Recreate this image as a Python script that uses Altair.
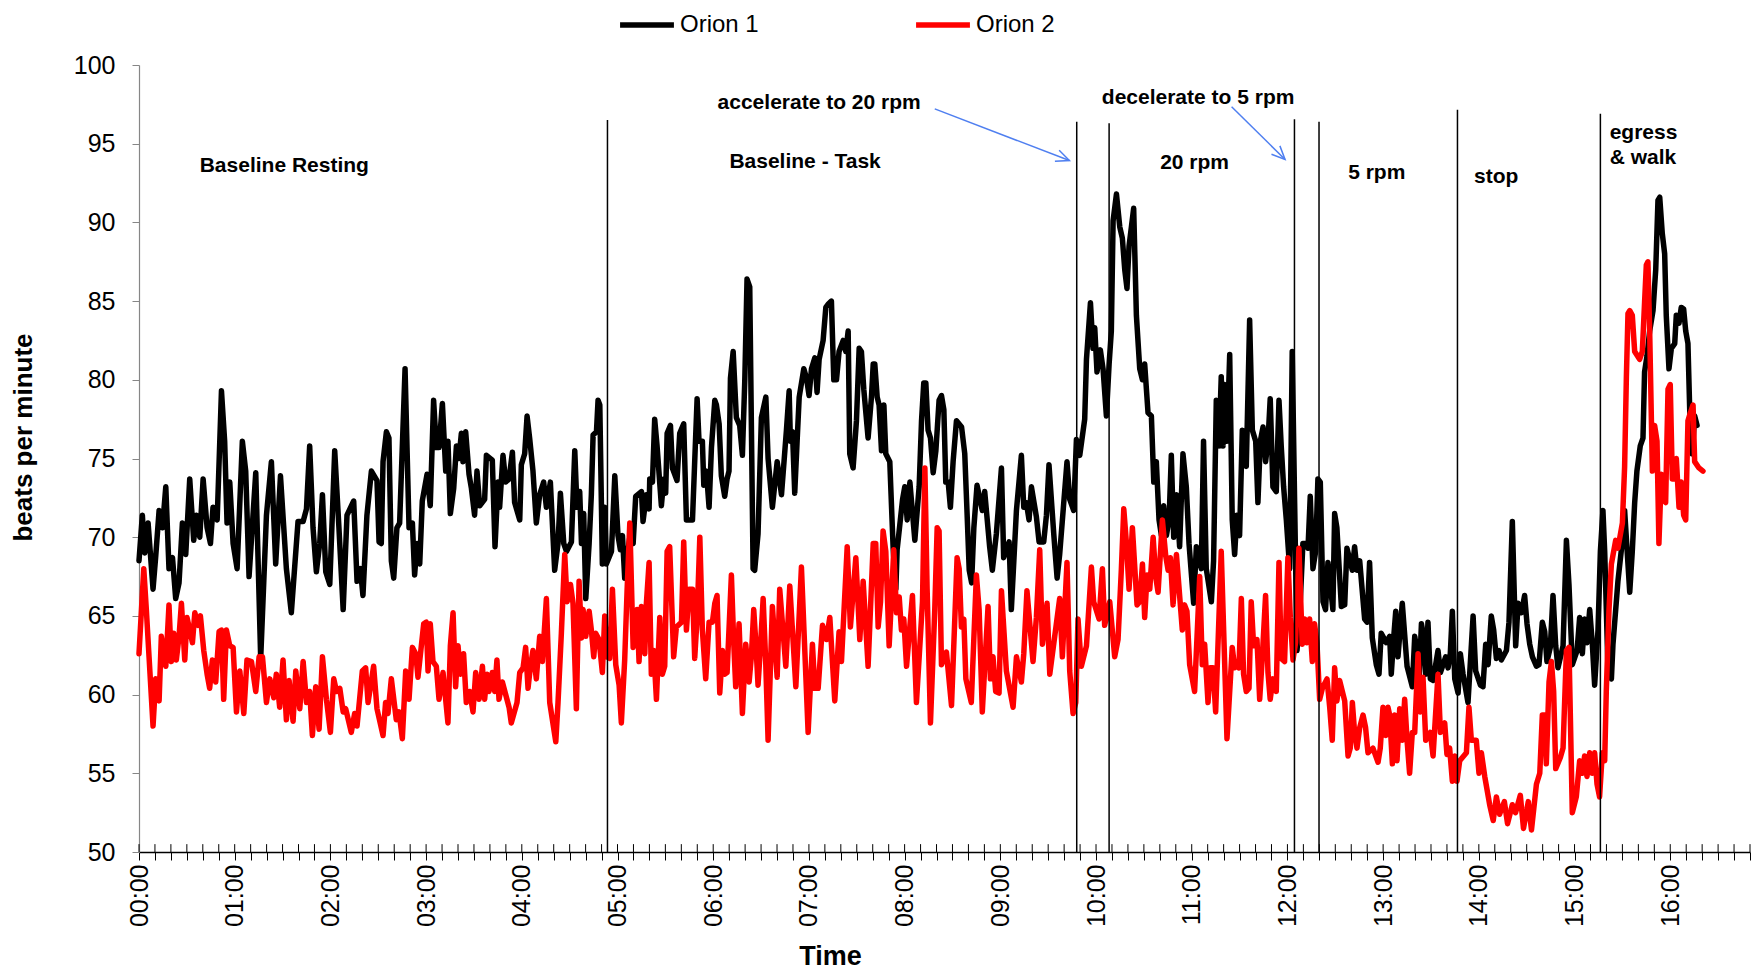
import altair as alt
import pandas as pd

# ---------------- data (time in seconds, beats per minute) ----------------
o1_p1 = [(0, 68.5), (2.1, 71.4), (3.6, 69.0), (5.7, 70.9), (7.1, 69.0), (8.8, 66.7), (10.5, 68.8), (12.6, 71.7),
         (14.7, 70.6), (16.8, 73.2), (18.8, 68.0), (21.0, 68.7), (23.0, 66.1), (25.1, 67.1), (27.2, 70.9), (29.3, 68.9),
         (31.8, 73.7), (34.3, 69.8), (36.0, 71.4), (38.1, 70.0), (40.2, 73.7), (42.7, 70.6), (44.8, 69.6), (46.4, 71.9),
         (49.0, 71.1), (51.7, 79.3), (53.7, 76.1), (55.2, 70.9), (56.9, 73.5), (59.0, 69.6), (61.5, 68.0), (64.8, 76.1),
         (66.9, 74.2), (69.0, 67.5), (73.2, 74.1), (76.3, 62.3), (79.9, 71.4), (83.0, 74.8), (85.7, 68.3), (88.7, 73.9),
         (90.7, 70.7), (92.4, 68.0), (95.5, 65.2), (99.7, 71.0), (102.9, 71.0), (105.0, 71.8), (107.0, 75.8), (109.1, 70.6),
         (111.2, 67.8), (113.3, 69.6), (115.0, 72.7), (117.1, 67.8), (119.6, 67.0), (122.7, 75.5), (125.4, 70.5), (128.0, 65.4)]
o1_p2 = [(130.4, 71.4), (134.6, 72.3), (136.7, 67.2), (138.8, 68.0), (140.4, 66.3), (142.9, 71.4), (145.7, 74.2),
         (149.2, 73.6), (150.5, 69.7), (151.9, 69.6), (153.0, 74.8), (155.1, 76.7), (156.7, 76.3), (158.2, 68.5),
         (159.7, 67.4), (161.7, 70.6), (163.4, 70.9), (166.8, 80.7), (169.3, 70.6), (171.4, 70.9), (172.8, 67.6),
         (174.3, 69.6), (176.0, 68.3), (177.6, 72.3), (180.6, 74.0), (182.6, 72.0), (184.7, 78.7), (186.4, 75.7),
         (188.1, 75.7), (190.2, 78.5), (192.3, 74.2), (193.7, 76.1), (195.2, 71.5), (197.3, 73.1), (199.0, 75.8),
         (200.6, 75.0), (202.1, 76.6), (203.1, 74.8), (204.8, 76.7), (206.9, 74.0), (208.4, 73.1), (210.4, 71.4),
         (211.9, 74.2), (213.6, 72.0), (216.7, 72.4), (217.8, 75.2), (221.5, 74.9), (223.2, 69.4), (225.1, 73.5),
         (226.1, 71.9), (228.2, 75.2), (229.9, 73.5), (232.0, 73.7), (234.1, 75.4), (235.5, 72.2), (238.7, 71.1),
         (239.7, 74.6), (241.8, 75.3), (243.3, 77.7), (244.9, 76.3), (247.0, 74.2), (249.1, 70.9), (251.2, 72.7),
         (253.7, 73.5), (255.4, 71.9), (257.9, 73.5)]
o1_p3 = [(260.6, 67.9), (262.7, 69.6), (264.2, 72.8), (266.3, 69.6), (268.0, 69.1), (271.1, 69.7), (273.2, 75.5),
         (274.6, 71.9), (276.3, 72.9), (277.4, 69.6), (278.8, 71.5), (280.1, 66.1), (282.2, 69.6), (283.6, 72.7),
         (284.7, 76.5), (286.8, 76.7), (287.8, 78.7), (288.9, 78.4), (290.5, 68.3), (292.0, 71.9), (293.0, 68.3),
         (296.2, 69.1), (298.3, 73.9), (300.3, 70.1), (301.8, 69.2), (303.1, 70.1), (304.5, 67.4), (306.0, 68.7),
         (307.7, 70.0), (309.8, 69.6), (311.4, 72.6), (315.0, 72.9), (316.0, 71.0), (318.1, 72.7), (319.8, 71.8),
         (320.2, 73.7), (321.9, 73.5), (323.3, 77.5), (324.8, 75.8), (327.5, 72.0), (329.0, 73.7), (330.2, 72.8),
         (331.1, 76.6), (333.2, 77.1), (334.4, 74.4), (337.3, 73.6), (339.0, 76.6), (341.5, 77.2), (343.2, 71.1),
         (347.0, 71.1), (349.9, 78.8), (351.1, 76.1), (353.2, 76.1), (354.1, 73.3), (355.7, 74.2), (357.4, 71.9),
         (358.9, 75.7), (361.0, 78.7), (362.0, 78.4), (363.7, 77.2), (365.1, 73.9), (367.2, 72.6), (368.7, 73.7),
         (369.9, 74.2), (370.8, 80.1), (372.5, 81.8), (374.5, 77.6), (376.6, 77.1), (378.3, 75.2), (379.8, 80.0),
         (381.2, 86.4), (382.9, 85.9), (385.0, 68.0), (386.0, 67.9), (388.1, 70.2)]
o1_p4 = [(390.2, 77.6), (393.0, 78.9), (394.4, 75.0), (397.1, 71.9), (400.1, 74.8), (402.8, 72.7), (405.9, 76.8),
         (407.6, 79.3), (408.4, 76.1), (409.7, 76.7), (411.1, 72.8), (412.6, 76.1), (413.9, 78.9), (416.8, 80.7),
         (418.5, 80.1), (420.1, 79.0), (421.6, 80.7), (423.7, 81.4), (425.1, 79.2), (426.4, 81.3), (428.9, 82.5),
         (430.6, 84.6), (432.0, 84.8), (434.1, 85.0), (435.6, 80.0), (437.3, 80.0), (438.9, 81.8), (441.5, 82.5),
         (443.1, 81.8), (444.6, 83.1), (445.6, 75.3), (447.7, 74.4), (449.8, 77.4), (451.5, 82.0), (452.9, 81.8),
         (454.4, 79.4), (457.1, 76.3), (459.2, 78.9), (460.3, 81.0), (461.3, 81.0), (462.8, 78.9), (464.0, 78.4),
         (465.5, 75.5), (467.0, 78.4), (468.2, 75.3), (470.7, 74.8), (472.8, 69.3), (474.5, 66.7), (475.3, 69.2),
         (478.7, 72.4), (480.1, 73.2), (481.6, 71.1), (483.3, 73.5), (486.4, 69.8), (489.1, 73.2), (490.6, 77.4),
         (492.0, 79.8), (493.3, 79.8), (494.7, 76.8), (496.2, 76.3), (497.9, 74.1), (499.6, 75.5), (501.6, 78.7),
         (503.1, 79.0), (504.6, 78.1), (505.8, 73.5), (507.3, 73.5), (508.7, 71.9), (510.4, 74.8), (512.5, 77.4),
         (515.7, 77.0), (517.7, 75.3), (519.2, 71.4), (520.5, 67.9), (522.0, 67.1), (523.4, 70.6)]
o1_p5 = [(525.4, 73.3), (528.7, 71.7), (530.2, 72.9), (533.3, 69.4), (535.0, 67.9), (537.5, 70.2), (540.7, 74.4),
         (542.1, 68.7), (545.5, 69.7), (546.9, 65.4), (550.1, 71.7), (553.2, 75.2), (554.7, 71.9), (556.3, 72.2),
         (558.0, 71.1), (559.5, 73.2), (562.6, 71.3), (564.3, 69.7), (567.2, 69.7), (568.9, 71.4), (570.5, 74.6),
         (573.5, 70.2), (575.6, 67.4), (577.2, 68.9), (581.8, 74.8), (583.5, 72.4), (586.0, 71.7), (587.7, 76.2),
         (589.8, 75.2), (592.9, 77.5), (594.0, 81.3), (596.5, 84.9), (598.1, 82.0), (599.2, 83.3), (600.6, 80.5),
         (602.7, 81.9), (604.4, 80.7), (606.5, 77.7), (608.2, 81.0), (609.6, 83.1), (610.7, 90.1), (612.8, 91.8),
         (614.9, 89.7), (616.5, 89.0), (618.0, 87.0), (619.4, 85.8), (620.7, 88.5), (623.6, 90.9), (625.3, 84.1),
         (627.4, 80.7), (629.1, 80.0), (630.5, 81.0), (632.6, 77.9), (634.7, 77.7), (636.2, 73.5), (637.8, 74.8),
         (639.5, 71.1), (641.0, 70.1), (642.4, 72.0), (644.1, 70.1), (645.8, 71.1), (647.2, 75.2), (648.7, 70.0),
         (650.4, 72.7)]
o1_p6 = [(652.4, 69.4), (654.5, 75.3), (656.6, 73.2), (658.3, 69.6), (661.2, 65.8), (662.9, 69.4), (666.0, 68.0),
         (667.4, 76.1), (669.1, 68.0), (672.3, 65.9), (673.7, 68.5), (675.4, 78.7), (677.1, 75.8), (678.5, 80.2),
         (679.6, 75.8), (680.6, 79.7), (682.1, 76.1), (683.8, 81.6), (685.4, 71.1), (686.9, 68.9), (688.3, 71.4),
         (690.0, 70.1), (691.7, 76.8), (694.2, 74.5), (696.3, 83.8), (698.0, 76.8), (700.1, 76.1), (701.5, 72.2),
         (703.0, 76.1), (704.7, 77.0), (706.3, 74.8), (707.8, 76.1), (709.2, 78.8), (710.9, 73.2), (713.0, 72.9),
         (714.7, 78.7), (716.1, 75.8), (717.6, 73.2), (719.3, 71.1), (721.4, 68.0), (723.0, 81.8), (726.0, 62.8),
         (727.6, 64.9), (729.7, 69.6), (731.4, 69.6), (732.9, 69.3), (734.3, 72.6), (736.0, 68.0), (737.7, 69.1),
         (739.1, 73.7), (740.6, 73.5), (742.3, 65.9), (743.9, 65.4), (745.4, 68.4), (748.5, 65.4), (749.6, 71.5),
         (751.0, 70.6), (753.8, 65.6), (755.9, 65.7), (757.3, 69.3), (760.7, 67.9), (762.1, 69.4), (763.6, 67.9),
         (765.3, 68.5), (768.4, 64.8), (769.9, 64.6), (771.5, 68.4), (773.2, 63.6), (775.7, 61.9), (777.4, 61.3),
         (778.8, 63.9), (782.0, 63.3)]
o1_p7 = [(784.1, 63.7), (785.1, 61.3), (786.6, 63.6), (787.9, 65.3), (789.3, 62.4), (792.0, 65.8), (795.0, 61.8),
         (798.3, 60.5), (799.8, 63.7), (801.2, 62.8), (802.5, 60.8), (804.0, 64.5), (805.4, 63.7), (806.7, 61.3),
         (808.1, 64.6), (809.6, 61.0), (811.3, 60.9), (814.4, 62.8), (815.9, 61.4), (819.2, 62.4), (820.7, 61.7),
         (822.1, 62.6), (823.4, 65.3), (824.9, 61.0), (827.0, 60.1), (828.4, 62.6), (830.1, 61.3), (833.2, 59.5),
         (836.4, 65.0), (838.0, 61.5), (841.0, 60.6), (842.6, 60.5), (844.3, 63.2), (845.8, 61.9), (847.8, 65.0),
         (849.3, 64.1), (851.0, 62.3), (852.7, 62.8), (854.1, 62.2), (857.3, 62.8), (858.9, 64.6), (861.0, 71.0),
         (863.1, 63.1), (864.6, 65.8), (866.7, 65.2), (868.7, 66.3), (870.2, 64.5), (871.9, 63.2), (873.6, 62.4),
         (876.1, 61.8), (877.7, 61.9), (879.8, 64.6), (881.3, 64.0), (882.7, 62.1), (884.8, 63.0), (886.5, 66.3),
         (888.2, 63.1), (889.6, 61.7), (892.8, 63.1), (894.9, 69.8), (896.5, 67.0), (898.6, 61.9), (901.6, 62.8)]
o1_p8 = [(903.2, 64.9), (904.9, 62.6), (906.3, 64.8), (907.8, 63.3), (909.5, 65.4), (911.1, 63.3), (912.6, 60.6),
         (914.7, 64.1), (916.2, 69.1), (917.8, 71.7), (918.9, 69.1), (921.0, 61.5), (923.1, 61.0), (924.1, 63.2),
         (927.2, 67.2), (930.0, 69.8), (931.4, 71.7), (934.6, 66.5), (936.2, 69.1), (937.7, 72.2), (939.1, 74.2),
         (941.2, 75.8), (942.9, 76.3), (943.9, 80.5), (945.4, 81.5), (947.1, 83.1), (949.2, 84.4), (950.9, 87.0),
         (952.3, 91.4), (953.4, 91.6), (955.0, 89.3), (956.5, 88.0), (957.5, 84.1), (959.2, 80.7), (960.7, 82.0),
         (962.8, 82.3), (963.8, 84.1), (965.5, 83.6), (966.9, 84.6), (968.4, 84.5), (969.7, 83.1), (971.1, 82.3),
         (972.2, 78.1), (973.8, 75.3), (975.3, 77.7), (976.8, 77.1)]

o2_p1 = [(0, 62.6), (3.0, 68.0), (4.6, 65.4), (6.3, 62.4), (8.8, 58.0), (10.5, 61.0), (12.6, 59.6), (14.0, 63.7),
         (16.8, 61.8), (18.8, 65.7), (20.3, 62.1), (21.8, 63.9), (23.4, 62.2), (25.1, 63.7), (26.6, 65.8), (28.7, 62.2),
         (30.1, 64.9), (33.5, 63.3), (35.0, 65.2), (37.0, 64.4), (38.5, 65.0), (40.6, 62.8), (42.7, 61.3), (44.3, 60.4),
         (46.0, 62.2), (48.1, 60.8), (50.2, 64.0), (51.7, 64.1), (53.1, 59.7), (54.8, 64.1), (56.9, 63.1), (59.0, 63.0),
         (61.1, 58.9), (63.2, 61.5), (65.7, 58.8), (67.7, 62.2), (70.5, 62.1), (73.2, 60.2), (75.3, 62.4), (77.4, 62.4),
         (79.9, 59.5), (82.0, 61.0), (84.5, 59.8), (86.1, 61.3), (88.2, 59.2), (90.3, 62.2), (92.4, 58.4), (94.1, 60.9),
         (96.6, 58.3), (98.3, 61.5), (100.8, 59.1), (102.9, 62.1), (105.0, 59.5), (107.0, 60.2), (108.7, 57.4),
         (110.8, 60.5), (112.9, 57.8), (115.0, 62.4), (117.5, 59.7), (120.0, 57.6), (122.1, 61.0), (123.8, 60.2),
         (125.9, 60.4), (128.0, 58.9)]
o2_p2 = [(129.6, 59.1), (133.1, 57.6), (135.2, 58.8), (136.7, 58.0), (140.0, 61.5), (142.1, 61.7), (143.6, 59.5),
         (147.1, 61.8), (149.2, 59.1), (153.0, 57.4), (154.6, 59.5), (156.1, 58.8), (158.2, 61.0), (161.3, 58.4),
         (163.0, 58.9), (165.1, 57.2), (167.2, 61.5), (169.3, 59.7), (171.4, 63.0), (173.5, 62.6), (174.9, 61.1),
         (178.5, 64.5), (180.1, 64.6), (181.2, 61.5), (182.6, 64.5), (184.3, 62.1), (186.4, 61.8), (188.1, 59.7),
         (190.6, 61.4), (193.7, 58.2), (195.2, 63.1), (196.9, 65.2), (198.5, 60.5), (200.0, 63.1), (201.5, 61.3),
         (203.5, 62.6), (205.2, 59.5), (207.3, 60.2), (209.4, 58.9), (211.1, 61.4), (213.2, 59.7), (215.3, 61.8),
         (216.7, 59.7), (218.2, 61.3), (219.4, 60.2), (221.5, 61.4), (223.0, 60.2), (224.4, 62.2), (225.7, 59.7),
         (227.8, 60.8), (232.0, 59.2), (233.4, 58.2), (237.0, 59.5), (238.7, 61.4), (240.8, 61.7), (242.4, 63.0),
         (243.9, 60.4), (245.3, 61.7), (247.0, 62.8), (249.1, 61.0), (251.2, 63.7), (252.9, 62.1), (255.4, 66.1),
         (257.5, 59.5)]
o2_p3 = [(261.3, 57.0), (262.7, 59.5), (264.8, 63.9), (266.9, 68.9), (268.4, 65.9), (270.5, 67.0), (272.1, 65.8),
         (274.2, 59.1), (275.9, 67.2), (277.4, 63.6), (278.4, 65.4), (280.1, 63.7), (282.2, 65.3), (283.6, 64.1),
         (285.1, 62.4), (286.3, 63.9), (288.4, 63.5), (290.5, 61.4), (292.0, 65.0), (293.4, 62.4), (295.1, 62.3),
         (296.8, 66.7), (298.9, 61.9), (301.0, 60.6), (302.4, 58.2), (304.5, 62.2), (306.0, 66.6), (307.7, 70.9),
         (309.8, 63.0), (312.3, 65.4), (313.5, 62.1), (315.0, 65.6), (317.1, 62.6), (318.1, 65.8), (319.8, 68.4),
         (321.2, 61.3), (322.7, 62.8), (324.4, 59.7), (326.5, 64.9), (328.1, 61.3), (329.6, 61.8), (331.1, 69.1),
         (332.7, 69.4), (335.2, 62.4), (336.9, 64.3), (340.1, 64.6), (341.5, 69.7), (343.2, 64.1), (344.9, 66.7),
         (347.0, 66.7), (348.4, 62.3), (349.9, 64.9), (351.6, 70.0), (353.2, 64.1), (355.3, 61.0), (357.4, 64.6),
         (359.5, 64.6), (361.0, 65.8), (362.4, 66.3), (364.1, 60.1), (365.8, 62.8), (367.2, 61.3), (368.7, 61.4),
         (371.4, 67.6), (372.9, 63.2), (374.1, 60.5), (376.2, 64.5), (378.3, 58.8), (380.4, 63.2), (382.5, 60.8),
         (383.9, 62.4), (385.4, 65.4), (386.7, 63.3), (388.1, 60.6)]
o2_p4 = [(389.6, 63.0), (391.3, 66.1), (392.9, 62.1), (394.4, 57.1), (397.1, 65.6), (400.1, 61.1), (401.7, 66.7),
         (405.5, 61.8), (408.0, 66.9), (411.8, 60.5), (415.3, 68.1), (419.5, 57.6), (422.2, 63.2), (423.7, 60.4),
         (425.8, 60.4), (428.5, 64.4), (431.0, 63.5), (433.1, 64.9), (436.2, 59.6), (438.9, 64.0), (440.4, 62.1),
         (444.0, 69.4), (446.0, 64.3), (449.4, 68.7), (451.9, 63.5), (454.0, 67.2), (457.1, 61.8), (460.3, 69.6),
         (461.9, 69.6), (463.4, 64.3), (464.9, 65.9), (466.5, 70.4), (468.2, 69.1), (470.3, 63.1), (473.2, 69.2),
         (474.9, 65.2), (476.6, 66.2), (478.0, 64.1), (479.5, 64.8), (481.2, 61.8), (484.9, 66.3), (487.4, 59.5),
         (491.2, 65.9), (492.7, 74.4), (494.1, 66.7), (496.2, 58.2), (498.9, 65.4), (500.4, 70.6), (501.6, 70.4),
         (503.1, 61.9), (506.2, 62.7), (509.4, 59.3), (512.9, 68.7), (514.2, 68.0), (515.6, 64.3), (517.1, 64.8),
         (518.4, 61.0)]
o2_p5 = [(521.8, 59.5), (525.0, 67.6), (526.7, 65.4), (528.7, 58.9), (532.3, 65.6), (533.8, 61.0), (535.4, 62.4),
         (537.1, 60.2), (539.2, 60.1), (540.7, 66.6), (543.8, 61.5), (548.0, 59.2), (550.1, 62.4), (553.2, 60.8),
         (554.7, 62.6), (556.7, 66.6), (560.5, 62.1), (562.6, 64.9), (564.7, 69.2), (566.4, 63.2), (569.3, 65.8),
         (571.0, 61.3), (574.1, 63.7), (577.2, 66.1), (578.9, 62.4), (581.8, 68.4), (583.5, 61.5), (585.6, 58.8),
         (587.3, 59.5), (588.7, 64.8), (590.8, 61.8), (594.0, 63.1), (597.1, 68.1), (598.5, 65.9), (601.9, 64.8),
         (604.0, 68.0), (605.4, 64.4), (608.6, 65.9), (611.7, 62.4), (613.8, 63.5), (615.9, 68.0), (617.4, 71.8),
         (619.0, 69.7), (620.7, 66.7), (622.8, 70.6), (625.7, 65.7), (627.4, 65.9), (629.1, 68.3), (630.5, 64.9),
         (632.0, 67.6), (633.7, 66.7), (635.8, 70.0), (637.4, 67.5), (638.9, 66.5), (641.6, 71.1), (643.7, 68.8),
         (645.2, 67.9), (646.6, 68.7), (648.3, 65.7), (650.4, 68.9)]
o2_p6 = [(654.1, 64.1), (655.5, 65.7), (657.0, 65.3), (658.7, 61.9), (661.8, 60.2), (665.0, 67.5), (666.6, 61.9),
         (668.1, 63.2), (670.2, 59.5), (671.6, 61.7), (673.3, 61.7), (675.0, 58.9), (678.5, 69.1), (682.1, 57.2),
         (685.4, 63.0), (686.9, 61.7), (688.3, 62.1), (689.6, 61.7), (691.1, 66.1), (692.5, 61.3), (694.2, 60.2),
         (695.9, 60.4), (697.3, 65.9), (698.8, 63.1), (700.9, 63.5), (702.6, 59.7), (704.2, 62.3), (706.3, 66.3),
         (707.8, 61.4), (709.2, 59.7), (710.9, 61.0), (713.0, 60.2), (714.7, 68.4), (716.1, 62.3), (718.2, 62.1),
         (720.3, 68.7), (721.8, 64.9), (723.5, 62.2), (725.1, 63.3), (727.2, 69.3), (729.3, 63.2), (730.8, 64.8),
         (732.2, 63.3), (733.9, 64.8), (735.6, 62.1), (737.0, 64.5), (738.5, 63.3), (740.2, 59.7), (741.9, 60.4),
         (744.8, 61.0), (746.5, 59.2), (748.1, 57.1), (749.6, 61.7), (751.0, 59.6), (752.7, 60.9), (755.9, 59.6),
         (758.0, 56.1), (759.4, 56.6), (760.7, 59.5), (762.1, 57.6), (763.6, 56.6), (765.3, 57.9), (767.4, 58.7),
         (769.0, 57.9), (770.5, 56.3), (773.6, 56.6), (776.8, 55.7), (778.2, 56.6), (779.9, 59.2), (781.6, 57.4),
         (783.0, 59.2)]
o2_p7 = [(784.1, 58.7), (785.8, 55.6), (787.2, 58.7), (788.7, 55.8), (790.4, 59.1), (792.0, 57.1), (793.5, 59.7),
         (795.0, 57.1), (796.6, 55.0), (798.3, 57.6), (799.8, 57.6), (801.9, 62.6), (803.3, 58.9), (805.0, 61.1),
         (806.7, 57.1), (809.6, 57.6), (811.3, 56.1), (814.4, 61.3), (815.9, 57.6), (818.6, 58.2), (820.0, 56.2),
         (821.7, 56.6), (823.4, 54.5), (824.9, 56.1), (826.3, 54.5), (828.0, 55.8), (832.2, 56.3), (833.8, 59.2),
         (835.3, 57.1), (838.4, 57.1), (840.1, 55.0), (841.6, 56.3), (843.7, 54.8), (846.8, 53.0), (849.0, 52.0),
         (851.0, 53.5), (853.0, 52.4), (856.0, 53.2), (858.0, 51.8), (861.0, 53.0), (863.0, 52.5), (866.0, 53.6),
         (868.0, 51.5), (871.0, 53.2), (873.0, 51.4), (876.1, 54.3), (878.2, 55.0), (879.8, 58.7), (881.3, 58.7),
         (882.3, 55.6), (884.0, 60.8), (885.5, 62.1), (886.9, 60.2), (888.2, 55.3), (891.1, 56.0), (892.8, 56.6),
         (894.9, 62.8), (896.5, 63.0), (898.6, 52.5), (901.1, 53.5)]
o2_p8 = [(903.2, 55.8), (904.9, 55.0), (906.3, 56.1), (907.8, 54.8), (909.5, 56.3), (911.1, 55.0), (912.6, 56.3),
         (914.1, 54.3), (915.7, 53.5), (917.4, 56.3), (918.9, 55.8), (919.9, 60.2), (921.6, 65.4), (923.1, 68.3),
         (925.8, 69.8), (927.2, 69.3), (930.0, 70.9), (931.4, 74.5), (932.5, 80.2), (933.5, 84.2), (934.6, 84.4),
         (936.2, 84.1), (937.7, 81.8), (940.8, 81.3), (942.5, 81.8), (943.9, 84.9), (945.0, 87.3), (946.0, 87.5),
         (947.1, 83.1), (948.8, 74.2), (950.2, 77.1), (951.7, 76.1), (952.9, 69.6), (954.4, 74.0), (955.4, 72.4),
         (957.1, 72.2), (958.6, 79.4), (960.0, 79.7), (961.3, 73.7), (962.8, 73.7), (963.8, 75.0), (965.5, 71.9),
         (966.9, 73.5), (968.4, 71.4), (969.7, 71.1), (971.1, 77.4), (972.6, 77.9), (974.3, 78.4), (975.3, 74.8),
         (978.0, 74.4), (980.5, 74.2)]

series_names = ["Orion 1", "Orion 2"]
series_colors = ["#000000", "#ff0000"]

# phase boundaries (seconds) and the top of each boundary line (bpm)
phase_t = [293.7, 587.9, 608.2, 724.4, 739.8, 826.6, 916.2]
phase_top = [96.5, 96.4, 96.3, 96.55, 96.4, 97.15, 96.9]

# centred phase labels
label_text = ["Baseline Resting", "Baseline - Task", "accelerate to 20 rpm", "decelerate to 5 rpm",
              "20 rpm", "5 rpm", "stop"]
label_t = [91.1, 417.6, 426.4, 664.0, 661.8, 776.0, 850.9]
label_v = [93.57, 93.86, 97.57, 97.92, 93.75, 93.11, 92.86]

# left-aligned label
left_text = ["egress", "& walk"]
left_t = [922.0, 922.0]
left_v = [95.7, 94.07]

# annotation arrows
arrow_t1 = [498.9, 685.0]
arrow_v1 = [97.21, 97.35]
arrow_t2 = [583.3, 718.5]
arrow_v2 = [93.93, 94.0]
arrow_angle = [21, 45]

tick_seconds = list(range(0, 1011, 10))
y_ticks = list(range(50, 101, 5))

# ---------------- build tables ----------------
rows = []
for name, parts in (("Orion 1", [o1_p1, o1_p2, o1_p3, o1_p4, o1_p5, o1_p6, o1_p7, o1_p8]),
                    ("Orion 2", [o2_p1, o2_p2, o2_p3, o2_p4, o2_p5, o2_p6, o2_p7, o2_p8])):
    for part in parts:
        for t, v in part:
            rows.append({"series": name, "t": t, "v": v})
df = pd.DataFrame(rows)
df["order"] = range(len(df))

phase_df = pd.DataFrame({"t": phase_t, "v": phase_top, "v2": [50] * len(phase_t)})
label_df = pd.DataFrame({"text": label_text, "t": label_t, "v": label_v})
left_df = pd.DataFrame({"text": left_text, "t": left_t, "v": left_v})
arrow_df = pd.DataFrame({"t": arrow_t1, "v": arrow_v1, "t2": arrow_t2, "v2": arrow_v2, "angle": arrow_angle})
head_df = pd.DataFrame({"t": arrow_t2, "v": arrow_v2, "angle": arrow_angle})
tick_df = pd.DataFrame({"t": tick_seconds, "v": [50] * len(tick_seconds), "v2": [50.5] * len(tick_seconds)})

FONT = "Liberation Sans"
xs = alt.Scale(domain=[0, 1010], nice=False, zero=False)
ys = alt.Scale(domain=[50, 100], nice=False, zero=False)

x_axis = alt.Axis(
    values=tick_seconds,
    labelExpr="datum.value % 60 == 0 ? format(datum.value / 60, '02d') + ':00' : ''",
    labelAngle=270, labelFontSize=25, labelFont=FONT, labelColor="black",
    labelOverlap=False, labelFlush=False, labelPadding=4,
    tickSize=8, tickColor="black", tickWidth=1,
    domainColor="black", domainWidth=1.5, grid=False,
    title="Time", titleFont=FONT, titleFontSize=27, titleFontWeight="bold", titleColor="black",
    titleX=691, titleY=112, titleBaseline="alphabetic", titleAnchor="middle", titleAlign="center",
)
y_axis = alt.Axis(
    values=y_ticks, labelFontSize=25, labelFont=FONT, labelColor="black", labelPadding=17,
    tickSize=7, tickColor="#868686", domainColor="#868686", domainWidth=1.2, grid=False,
    title="beats per minute", titleFont=FONT, titleFontSize=26, titleFontWeight="bold", titleColor="black",
    titleX=-116, titleY=372, titleAngle=270, titleBaseline="middle", titleAlign="center",
)

X = alt.X("t:Q", scale=xs, axis=x_axis)
Y = alt.Y("v:Q", scale=ys, axis=y_axis)

lines = alt.Chart(df).mark_line(strokeWidth=5.5, strokeJoin="round", strokeCap="round").encode(
    x=X, y=Y,
    color=alt.Color("series:N", scale=alt.Scale(domain=series_names, range=series_colors),
                    legend=alt.Legend(title=None, orient="none", legendX=478, legendY=-70,
                                      direction="horizontal", symbolType="stroke", symbolSize=2900,
                                      symbolStrokeWidth=5.5, labelFontSize=24, labelFont=FONT,
                                      labelColor="black", columnPadding=146, labelOffset=3, padding=0)),
    order="order:Q",
)

phases = alt.Chart(phase_df).mark_rule(color="black", strokeWidth=1.5).encode(x=X, y=Y, y2="v2:Q")

inner_ticks = alt.Chart(tick_df).mark_rule(color="black", strokeWidth=1).encode(x=X, y=Y, y2="v2:Q")

labels = alt.Chart(label_df).mark_text(font=FONT, fontSize=21, fontWeight="bold", color="black",
                                       align="center", baseline="middle").encode(x=X, y=Y, text="text:N")
left_labels = alt.Chart(left_df).mark_text(font=FONT, fontSize=21, fontWeight="bold", color="black",
                                           align="left", baseline="middle").encode(x=X, y=Y, text="text:N")

ARROW = "#4f7ff0"
arrow_lines = alt.Chart(arrow_df).mark_rule(color=ARROW, strokeWidth=1.5).encode(
    x=X, y=Y, x2="t2:Q", y2="v2:Q")
arrow_heads = alt.Chart(head_df).mark_point(shape="M -1 -0.45 L 0 0 L -1 0.45", filled=False,
                                            stroke=ARROW, strokeWidth=1.5, size=700, opacity=1).encode(
    x=X, y=Y, angle=alt.Angle("angle:Q", scale=None))

chart = alt.layer(lines, phases, inner_ticks, labels, left_labels, arrow_lines, arrow_heads).properties(
    width=1611, height=787,
    autosize=alt.AutoSizeParams(type="none"),
    padding={"left": 131, "top": 57, "right": 2, "bottom": 122},
).configure(font=FONT, background="white", view=alt.ViewConfig(stroke=None))

chart.save("out.html", embed_options={"renderer": "svg", "actions": False})
